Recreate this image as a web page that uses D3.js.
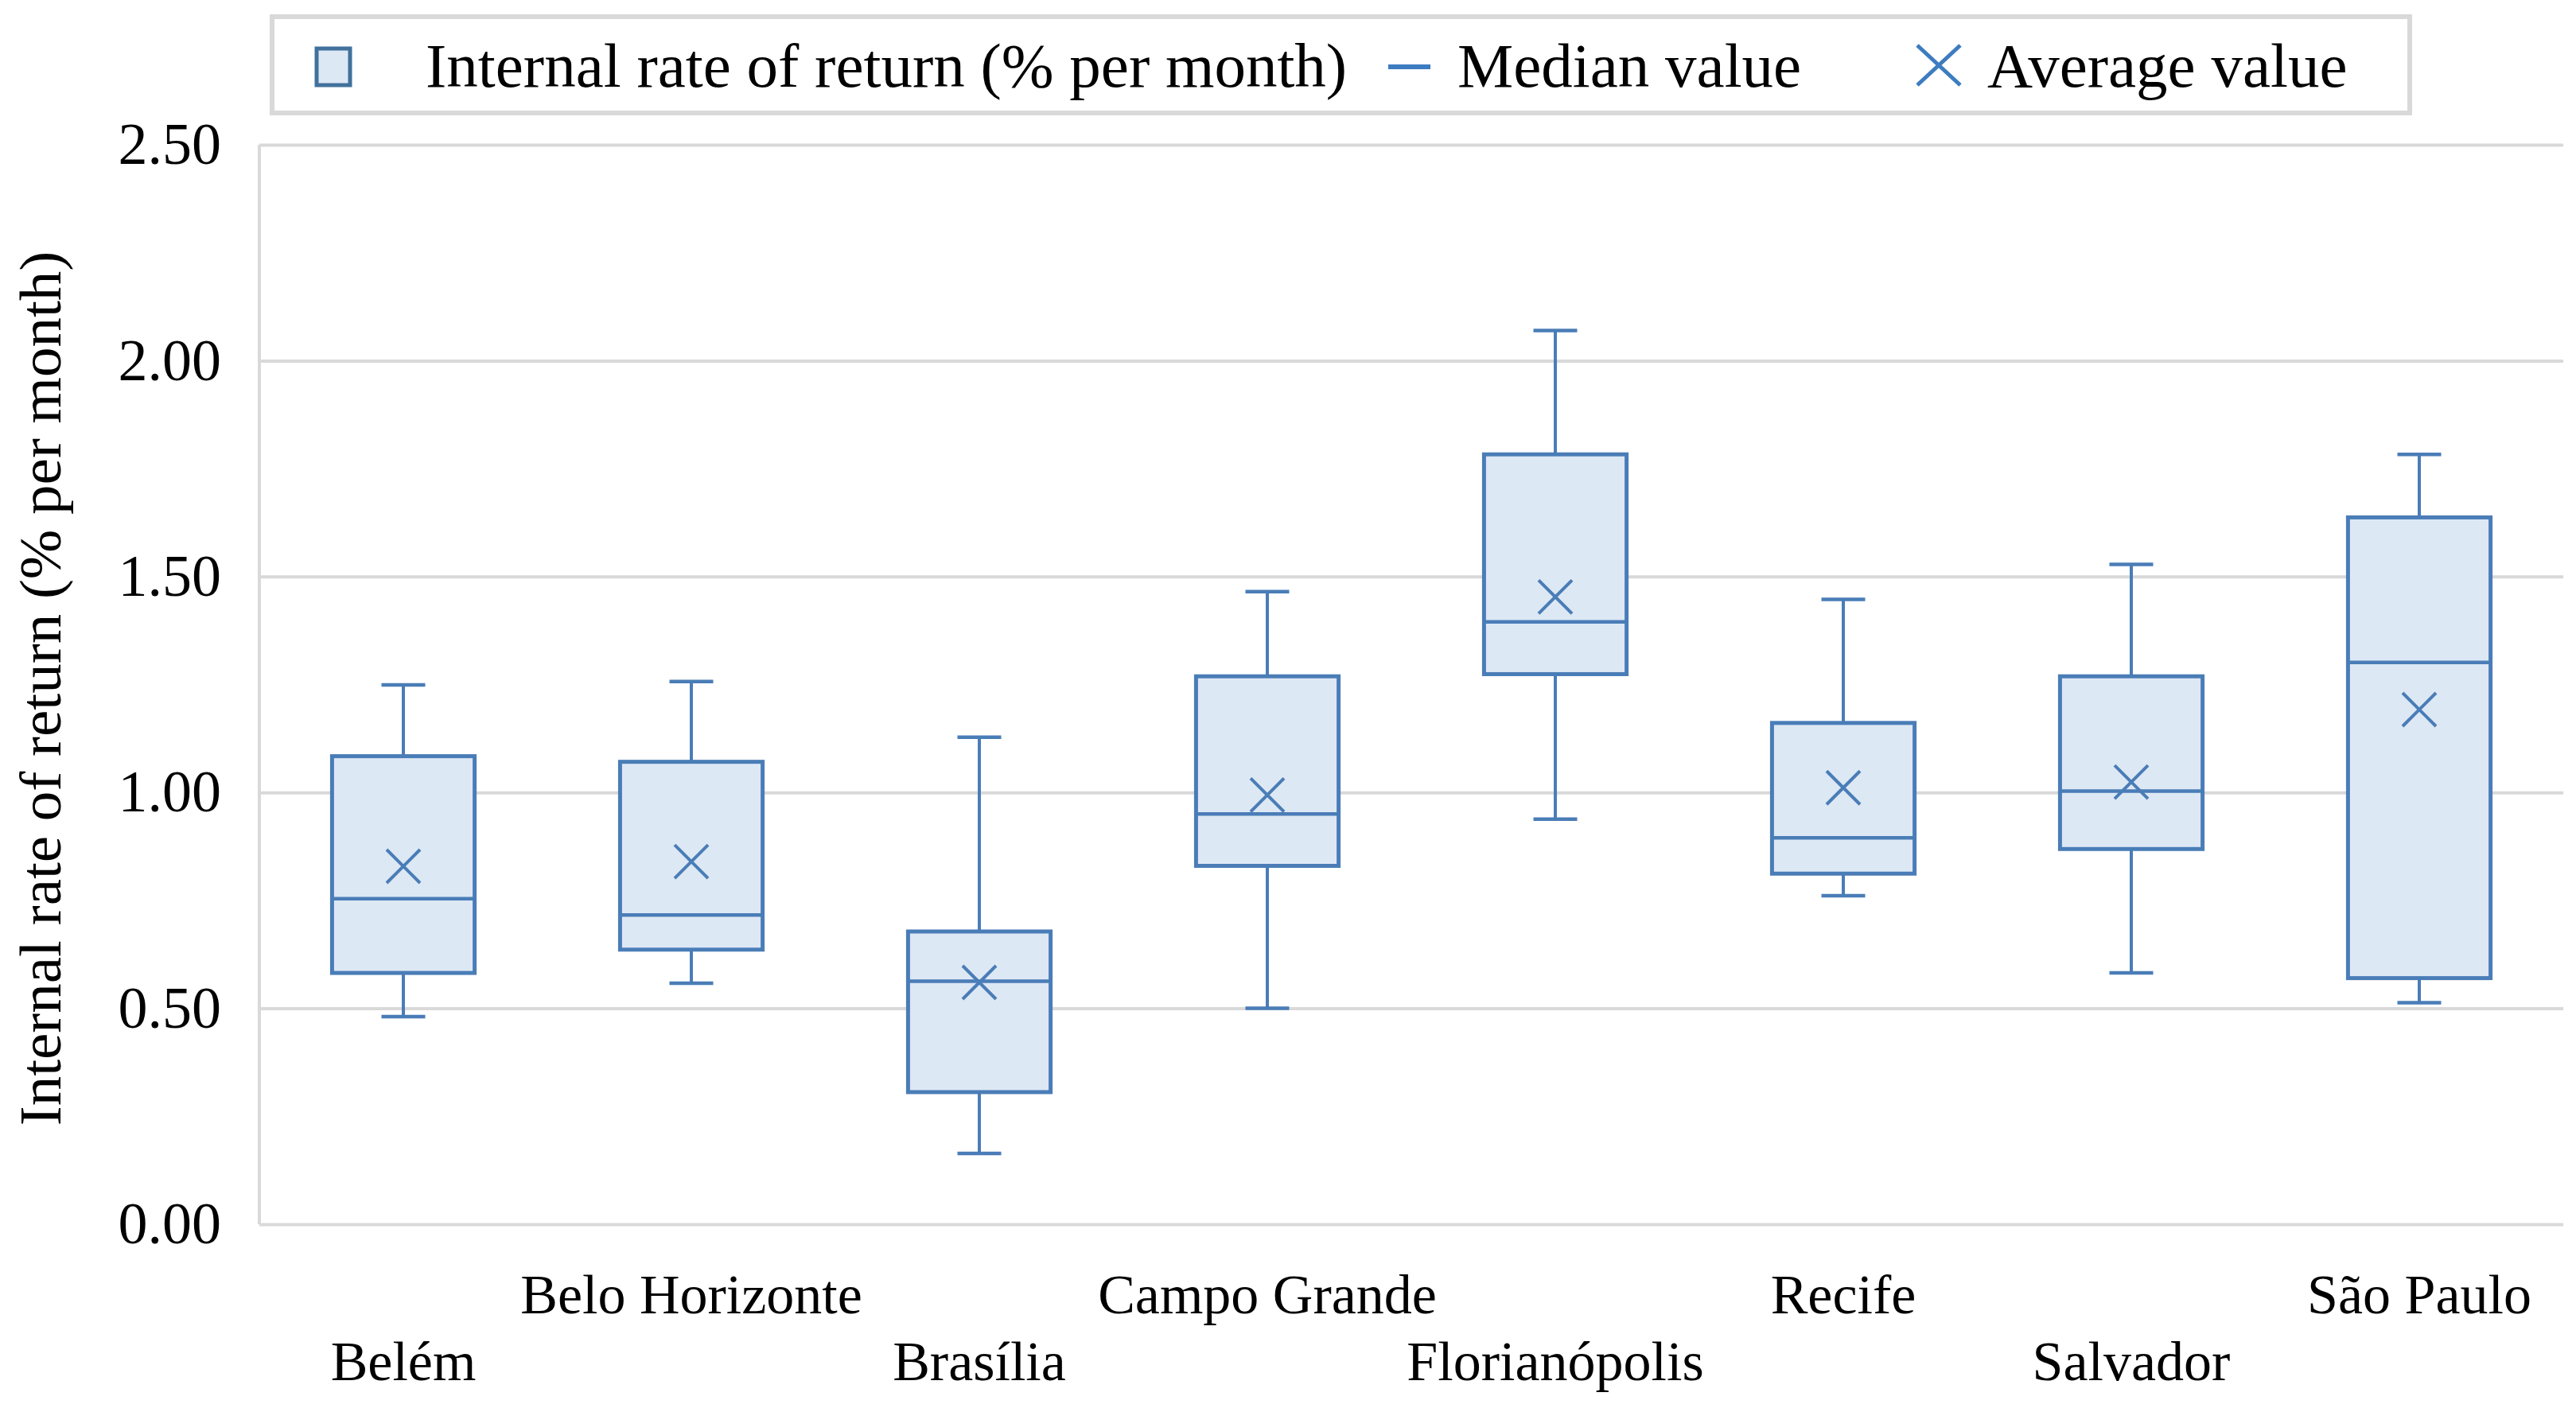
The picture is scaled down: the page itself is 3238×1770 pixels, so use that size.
<!DOCTYPE html>
<html>
<head>
<meta charset="utf-8">
<script src="https://cdn.jsdelivr.net/npm/d3@7"></script>
<style>
    body { margin: 0; background: #fff; }
    text { font-family: "Liberation Serif", "Times New Roman", serif; fill: #000; }
</style>
</head>
<body>
<svg id="chart"></svg>
<script>
var cities = ["Belém", "Belo Horizonte", "Brasília", "Campo Grande", "Florianópolis", "Recife", "Salvador", "São Paulo"];
var whiskerLow = [0.481, 0.558, 0.164, 0.500, 0.938, 0.761, 0.582, 0.513];
var q1 = [0.582, 0.636, 0.306, 0.830, 1.274, 0.812, 0.869, 0.570];
var median = [0.754, 0.716, 0.563, 0.950, 1.395, 0.895, 1.003, 1.301];
var q3 = [1.084, 1.071, 0.678, 1.269, 1.783, 1.161, 1.269, 1.637];
var whiskerHigh = [1.249, 1.257, 1.128, 1.465, 2.070, 1.447, 1.528, 1.783];
var mean = [0.829, 0.840, 0.560, 0.994, 1.453, 1.011, 1.024, 1.192];
var yTicks = [0, 0.5, 1.0, 1.5, 2.0, 2.5];
var legendLabels = ["Internal rate of return (% per month)", "Median value", "Average value"];
var yTitle = "Internal rate of return (% per month)";

var W = 3238, H = 1770;
var plot = { left: 326, right: 3222, top: 182, bottom: 1539 };
var lineColor = "#4a7db7", fillColor = "#dde8f5", gridColor = "#d9d9d9";

var svg = d3.select("#chart").attr("width", W).attr("height", H);

var x = d3.scaleBand().domain(cities).range([plot.left, plot.right]);
var y = d3.scaleLinear().domain([0, 2.5]).range([plot.bottom, plot.top]);

// gridlines + y tick labels
var yAxis = svg.append("g")
    .attr("transform", "translate(" + plot.left + ",0)")
    .call(d3.axisLeft(y).tickValues(yTicks).tickFormat(d3.format(".2f"))
        .tickSize(-(plot.right - plot.left)).tickPadding(48));
yAxis.select(".domain").remove();
yAxis.selectAll(".tick line").attr("stroke", gridColor).attr("stroke-width", 4);
yAxis.selectAll(".tick text").style("font-size", "74px")
    .style("font-family", "'Liberation Serif', serif").attr("fill", "#000");

svg.append("line")
    .attr("x1", plot.left).attr("x2", plot.left)
    .attr("y1", plot.top).attr("y2", plot.bottom)
    .attr("stroke", gridColor).attr("stroke-width", 4);

// category labels, staggered in two rows
svg.append("g").selectAll("text")
    .data(cities)
    .join("text")
    .attr("x", function (d) { return x(d) + x.bandwidth() / 2; })
    .attr("y", function (d, i) { return i % 2 == 0 ? 1735 : 1651; })
    .attr("text-anchor", "middle")
    .style("font-size", "70px")
    .text(function (d) { return d; });

// y title
svg.append("text")
    .attr("transform", "translate(76," + ((plot.top + plot.bottom) / 2 + 5) + ") rotate(-90)")
    .attr("text-anchor", "middle")
    .style("font-size", "75px")
    .text(yTitle);

// boxes
var boxW = x.bandwidth() * 0.495;
var capW = 55;
var g = svg.append("g");
var boxes = g.selectAll("g.box")
    .data(cities)
    .join("g")
    .attr("class", "box")
    .attr("transform", function (d) { return "translate(" + (x(d) + x.bandwidth() / 2) + ",0)"; });

boxes.append("line")
    .attr("x1", 0).attr("x2", 0)
    .attr("y1", function (d, i) { return y(whiskerHigh[i]); })
    .attr("y2", function (d, i) { return y(q3[i]); })
    .attr("stroke", lineColor).attr("stroke-width", 4);
boxes.append("line")
    .attr("x1", 0).attr("x2", 0)
    .attr("y1", function (d, i) { return y(q1[i]); })
    .attr("y2", function (d, i) { return y(whiskerLow[i]); })
    .attr("stroke", lineColor).attr("stroke-width", 4);
boxes.append("line")
    .attr("x1", -capW / 2).attr("x2", capW / 2)
    .attr("y1", function (d, i) { return y(whiskerHigh[i]); })
    .attr("y2", function (d, i) { return y(whiskerHigh[i]); })
    .attr("stroke", lineColor).attr("stroke-width", 4.5);
boxes.append("line")
    .attr("x1", -capW / 2).attr("x2", capW / 2)
    .attr("y1", function (d, i) { return y(whiskerLow[i]); })
    .attr("y2", function (d, i) { return y(whiskerLow[i]); })
    .attr("stroke", lineColor).attr("stroke-width", 4.5);
boxes.append("rect")
    .attr("x", -boxW / 2).attr("width", boxW)
    .attr("y", function (d, i) { return y(q3[i]); })
    .attr("height", function (d, i) { return y(q1[i]) - y(q3[i]); })
    .attr("fill", fillColor).attr("stroke", lineColor).attr("stroke-width", 5);
boxes.append("line")
    .attr("x1", -boxW / 2).attr("x2", boxW / 2)
    .attr("y1", function (d, i) { return y(median[i]); })
    .attr("y2", function (d, i) { return y(median[i]); })
    .attr("stroke", lineColor).attr("stroke-width", 4.5);
boxes.append("path")
    .attr("transform", function (d, i) { return "translate(0," + y(mean[i]) + ")"; })
    .attr("d", "M-21,-21L21,21M-21,21L21,-21")
    .attr("fill", "none").attr("stroke", lineColor).attr("stroke-width", 4);

// legend
var leg = svg.append("g");
leg.append("rect")
    .attr("x", 342).attr("y", 21).attr("width", 2687).attr("height", 121)
    .attr("fill", "#fff").attr("stroke", gridColor).attr("stroke-width", 6);
leg.append("rect")
    .attr("x", 398).attr("y", 61).attr("width", 42).attr("height", 46)
    .attr("fill", fillColor).attr("stroke", "#41719c").attr("stroke-width", 5);
leg.append("line")
    .attr("x1", 1745).attr("x2", 1798).attr("y1", 84).attr("y2", 84)
    .attr("stroke", "#3d7cc0").attr("stroke-width", 6);
leg.append("path")
    .attr("transform", "translate(2437,82)")
    .attr("d", "M-27,-25L27,25M-27,25L27,-25")
    .attr("fill", "none").attr("stroke", "#3d7cc0").attr("stroke-width", 5);
var legX = [535, 1832, 2498];
leg.selectAll("text.lg")
    .data(legendLabels)
    .join("text")
    .attr("class", "lg")
    .attr("x", function (d, i) { return legX[i]; })
    .attr("y", 109)
    .style("font-size", "79px")
    .text(function (d) { return d; });
</script>
</body>
</html>
